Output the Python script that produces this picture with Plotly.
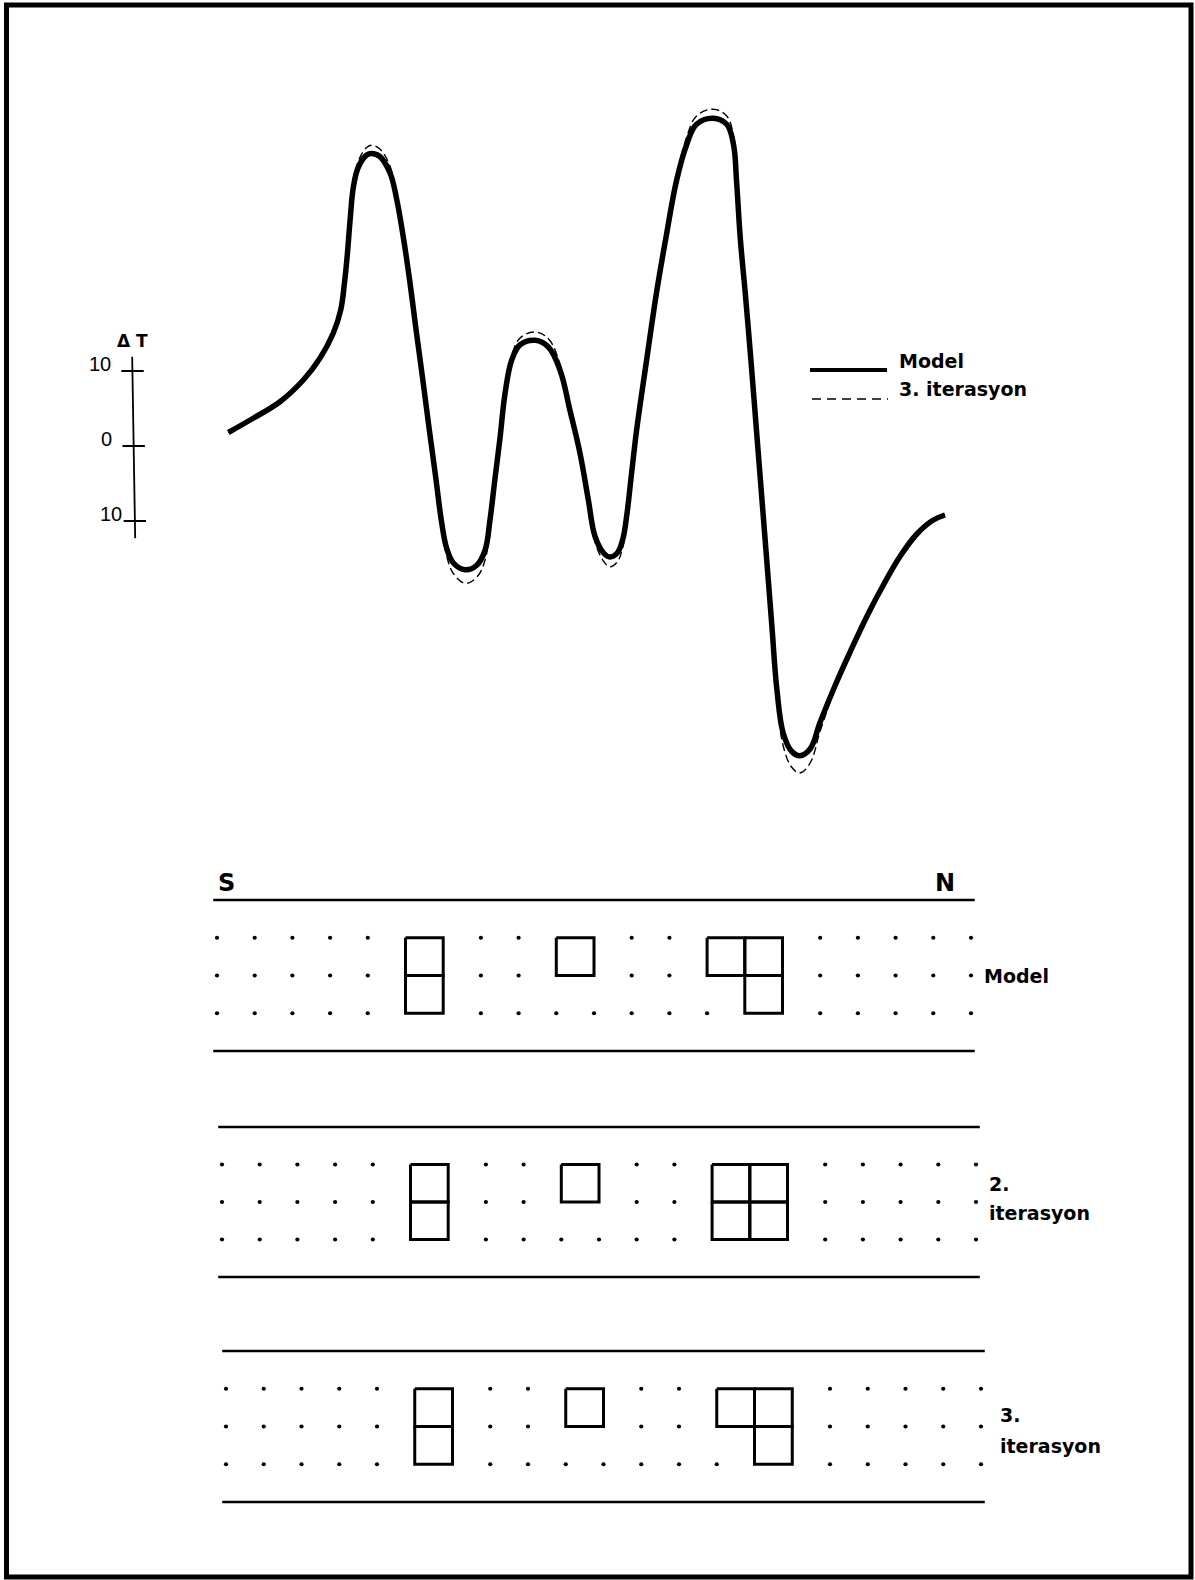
import plotly.graph_objects as go

W, H = 1195, 1580

# ---- Total-field anomaly profile along the S-N line -------------------------
# station: position along the profile, in block widths from the S end
station = [0.30, 0.96, 1.67, 2.29, 2.73, 3.08, 3.28, 3.38, 3.46, 3.53,
           3.62, 3.75, 3.97, 4.10, 4.32, 4.59, 4.77, 4.94, 5.11, 5.27,
           5.46, 5.62, 5.81, 5.95, 6.09, 6.27, 6.58, 6.89, 7.11, 7.24,
           7.37, 7.51, 7.64, 7.82, 8.04, 8.44, 8.79, 9.10, 9.36, 9.63,
           9.85, 10.03, 10.26, 10.42, 10.61, 10.76, 10.87, 10.98, 11.13, 11.40,
           11.66, 11.92, 12.19, 12.46, 12.72, 13.16, 13.52, 13.70, 13.78, 13.88,
           14.01, 14.16, 14.30, 14.44, 14.58, 14.72, 14.85, 15.02, 15.24, 15.46,
           15.73, 16.00, 16.39, 16.79, 17.27, 17.69, 18.12, 18.57, 18.99, 19.31]

# ΔT of the model bodies
model_dt = [1.8, 3.7, 5.9, 8.8, 11.7, 15.0, 18.1, 21.7, 25.7, 30.1,
            34.6, 37.2, 38.8, 39.0, 38.6, 36.4, 32.8, 27.9, 22.1, 15.9,
            8.8, 2.6, -4.5, -9.9, -13.6, -15.6, -16.5, -15.9, -13.9, -9.9,
            -4.5, 1.2, 7.0, 11.5, 13.5, 14.1, 13.2, 10.1, 4.8, -1.0,
            -7.2, -12.1, -14.3, -14.8, -14.3, -12.5, -9.2, -4.4, 2.1, 11.6,
            20.5, 28.1, 35.4, 40.2, 42.9, 43.7, 42.9, 40.2, 35.4, 27.7,
            20.5, 11.6, 2.7, -6.2, -15.1, -24.1, -32.4, -38.3, -40.7, -41.3,
            -40.4, -36.8, -32.0, -27.5, -22.4, -18.4, -14.7, -11.7, -9.9, -9.2]

# ΔT computed after the 3rd iteration
iter3_dt = [1.8, 3.7, 5.9, 8.8, 11.7, 15.0, 18.1, 21.7, 25.7, 30.1,
            34.9, 38.0, 39.8, 40.1, 39.6, 37.3, 33.3, 27.9, 22.1, 15.9,
            8.8, 2.6, -4.6, -10.2, -14.6, -17.0, -18.3, -17.5, -15.2, -10.5,
            -4.7, 1.2, 7.0, 12.1, 14.4, 15.2, 14.3, 10.9, 5.2, -1.0,
            -7.2, -12.8, -15.4, -16.1, -15.5, -13.6, -9.8, -4.4, 2.1, 11.6,
            20.5, 28.1, 35.9, 41.2, 44.0, 44.9, 44.0, 41.3, 35.9, 27.7,
            20.5, 11.6, 2.7, -6.2, -15.1, -24.5, -33.5, -40.0, -42.8, -43.6,
            -42.3, -38.0, -32.4, -27.5, -22.4, -18.4, -14.7, -11.7, -9.9, -9.2]

dt_ticks = [10, 0, -10]
dt_tick_labels = ["10", "0", "10"]

# ---- Block sections: (column, row) of each magnetised cell ------------------
model_cells = [(5, 0), (5, 1), (9, 0), (13, 0), (14, 0), (14, 1)]
iter2_cells = [(5, 0), (5, 1), (9, 0), (13, 0), (14, 0), (13, 1), (14, 1)]
iter3_cells = [(5, 0), (5, 1), (9, 0), (13, 0), (14, 0), (14, 1)]
lattice_cols = list(range(0, 21))
lattice_rows = [0, 1, 2]
section_bounds = [-1, 3]          # surface and base of each section (rows)
section_extent = [-0.1, 20.1]     # S and N ends of each section (columns)
section_labels = ["Model", "2.<br>iterasyon", "3.<br>iterasyon"]


def page_range(v0, p0, v1, p1, total, downward=False):
    """Axis range over the full page so that value v0 lands at pixel p0, v1 at p1."""
    s = (v1 - v0) / (p1 - p0)
    lo = v0 + (0 - p0) * s
    hi = v0 + (total - p0) * s
    return [hi, lo] if downward else [lo, hi]


fig = go.Figure()
BLACK = "black"
LABEL_FONT = dict(family="DejaVu Sans", size=19, color=BLACK, weight="bold")

# ---- anomaly curves ---------------------------------------------------------
fig.add_trace(go.Scatter(x=station, y=iter3_dt, mode="lines",
                         line=dict(color=BLACK, width=1.4, dash="8px,4px", shape="spline", smoothing=1.1),
                         xaxis="x", yaxis="y", hoverinfo="skip"))
fig.add_trace(go.Scatter(x=station, y=model_dt, mode="lines",
                         line=dict(color=BLACK, width=5.5, shape="spline", smoothing=1.1),
                         xaxis="x", yaxis="y", hoverinfo="skip"))

# ---- ΔT scale bar -----------------------------------------------------------
axis_x = [-2.25, -2.17]
fig.add_trace(go.Scatter(x=axis_x, y=[11.9, -12.3], mode="lines",
                         line=dict(color=BLACK, width=1.8), xaxis="x", yaxis="y", hoverinfo="skip"))
tick_x = [-2.24, -2.21, -2.18]
fig.add_trace(go.Scatter(x=tick_x, y=dt_ticks, mode="markers",
                         marker=dict(symbol="line-ew", size=16, line=dict(color=BLACK, width=2)),
                         xaxis="x", yaxis="y", hoverinfo="skip"))
label_xshift = [-20, -20, -11]
for v, t, dx, ax in zip(dt_ticks, dt_tick_labels, label_xshift, tick_x):
    fig.add_annotation(x=ax, y=v, xref="x", yref="y", text=t, showarrow=False,
                       xanchor="right", yanchor="middle", xshift=dx, yshift=7,
                       font=dict(family="Liberation Sans", size=20, color=BLACK))
fig.add_annotation(x=-2.25, y=14.0, xref="x", yref="y", text="Δ T", showarrow=False,
                   xanchor="center", yanchor="middle",
                   font=dict(family="DejaVu Sans", size=17, color=BLACK, weight="bold"))

# ---- legend -----------------------------------------------------------------
fig.add_shape(type="line", xref="paper", yref="paper", x0=810 / W, x1=887 / W,
              y0=1 - 370 / H, y1=1 - 370 / H, line=dict(color=BLACK, width=4))
fig.add_shape(type="line", xref="paper", yref="paper", x0=812 / W, x1=888 / W,
              y0=1 - 399 / H, y1=1 - 399 / H, line=dict(color=BLACK, width=1.3, dash="9px,6px"))
fig.add_annotation(x=897 / W, y=1 - 361 / H, xref="paper", yref="paper", text="Model",
                   showarrow=False, xanchor="left", yanchor="middle", font=LABEL_FONT)
fig.add_annotation(x=897 / W, y=1 - 389 / H, xref="paper", yref="paper", text="3. iterasyon",
                   showarrow=False, xanchor="left", yanchor="middle", font=LABEL_FONT)

# ---- block sections ---------------------------------------------------------
# pixel anchors of each section: (col 0, col 20) and (surface, base)
section_px = [((217, 971), (900, 1051)),
              ((222, 976), (1127, 1277)),
              ((226, 981), (1351, 1502))]
sections = [model_cells, iter2_cells, iter3_cells]

layout_axes = {}
for i, (cells, ((c0, c20), (ytop, ybot))) in enumerate(zip(sections, section_px)):
    n = i + 2
    xa, ya = f"x{n}", f"y{n}"
    layout_axes[f"xaxis{n}"] = dict(range=page_range(0, c0, 20, c20, W), overlaying="x",
                                    anchor=ya, visible=False, domain=[0, 1])
    layout_axes[f"yaxis{n}"] = dict(range=page_range(section_bounds[0], ytop, section_bounds[1], ybot, H, True),
                                    overlaying="y", anchor=xa, visible=False, domain=[0, 1])

    # surface and base lines
    for r in section_bounds:
        fig.add_trace(go.Scatter(x=section_extent, y=[r, r], mode="lines",
                                 line=dict(color=BLACK, width=2.4), xaxis=xa, yaxis=ya, hoverinfo="skip"))

    # lattice points not taken by a cell corner
    corners = set()
    for c, r in cells:
        corners.update({(c, r), (c + 1, r), (c, r + 1), (c + 1, r + 1)})
    dx, dy = [], []
    for r in lattice_rows:
        for c in lattice_cols:
            if (c, r) not in corners:
                dx.append(c)
                dy.append(r)
    fig.add_trace(go.Scatter(x=dx, y=dy, mode="markers", marker=dict(color=BLACK, size=4.2),
                             xaxis=xa, yaxis=ya, hoverinfo="skip"))

    # magnetised cells
    bx, by = [], []
    for c, r in cells:
        bx += [c, c + 1, c + 1, c, c, None]
        by += [r, r, r + 1, r + 1, r, None]
    fig.add_trace(go.Scatter(x=bx, y=by, mode="lines", line=dict(color=BLACK, width=3),
                             xaxis=xa, yaxis=ya, hoverinfo="skip"))

# direction labels over the model section
fig.add_annotation(x=0.24, y=-1.45, xref="x2", yref="y2", text="S", showarrow=False,
                   xanchor="center", yanchor="middle",
                   font=dict(family="DejaVu Sans", size=24, color=BLACK, weight="bold"))
fig.add_annotation(x=19.31, y=-1.45, xref="x2", yref="y2", text="N", showarrow=False,
                   xanchor="center", yanchor="middle",
                   font=dict(family="DejaVu Sans", size=24, color=BLACK, weight="bold"))

# section names
fig.add_annotation(x=20.3, y=1.0, xref="x2", yref="y2", text=section_labels[0], showarrow=False,
                   xanchor="left", yanchor="middle", font=LABEL_FONT)
for (xr, yr, lx, first_row, second_row), lab in zip(
        [("x3", "y3", 20.29, 0.52, 1.29), ("x4", "y4", 20.45, 0.70, 1.52)], section_labels[1:]):
    head, tail = lab.split("<br>")
    fig.add_annotation(x=lx, y=first_row, xref=xr, yref=yr, text=head, showarrow=False,
                       xanchor="left", yanchor="middle", font=LABEL_FONT)
    fig.add_annotation(x=lx, y=second_row, xref=xr, yref=yr, text=tail, showarrow=False,
                       xanchor="left", yanchor="middle", font=LABEL_FONT)

# page frame
fig.add_shape(type="rect", xref="paper", yref="paper", x0=6.5 / W, x1=1191 / W,
              y0=1 - 1577 / H, y1=1 - 5 / H, line=dict(color=BLACK, width=5))

fig.update_layout(
    width=W, height=H, margin=dict(l=0, r=0, t=0, b=0),
    paper_bgcolor="white", plot_bgcolor="white", showlegend=False,
    xaxis=dict(range=page_range(0, 217, 20, 971, W), visible=False, domain=[0, 1]),
    yaxis=dict(range=page_range(0, 446, 10, 371, H, True), visible=False, domain=[0, 1]),
    **layout_axes,
)

fig.write_html("out.html")
